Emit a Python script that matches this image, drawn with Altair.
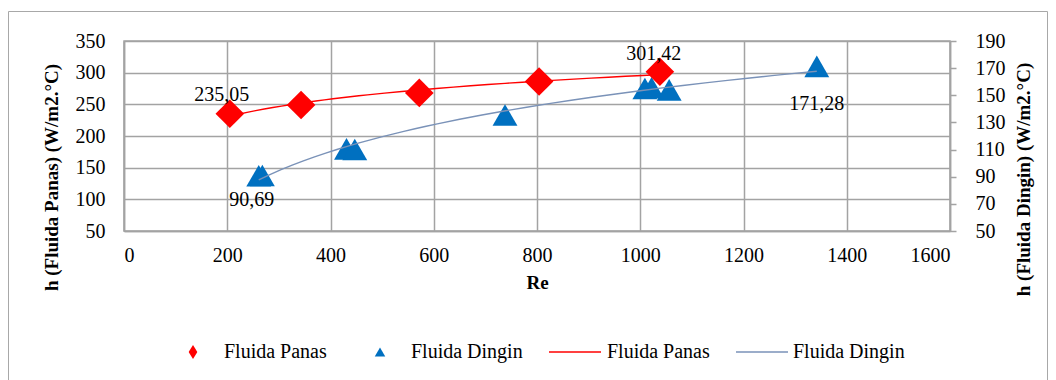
import altair as alt
import pandas as pd

# ---------------- data ----------------
re_panas = [205, 343, 572, 804, 1038]
h_panas = [235.05, 249.0, 268.0, 286.0, 301.42]

re_dingin = [261, 268, 431, 447, 738, 1009, 1022, 1056, 1342]
h_dingin = [90.69, 90.9, 110.5, 110.0, 135.5, 155.0, 155.5, 154.0, 171.28]

x_ticks = [0, 200, 400, 600, 800, 1000, 1200, 1400, 1600]
y_left_ticks = [50, 100, 150, 200, 250, 300, 350]
y_right_ticks = [50, 70, 90, 110, 130, 150, 170, 190]

label_panas_first = "235,05"
label_panas_last = "301,42"
label_dingin_first = "90,69"
label_dingin_last = "171,28"

legend_labels = ["Fluida Panas", "Fluida Dingin", "Fluida Panas", "Fluida Dingin"]

# ---------------- styles ----------------
FONT = "Liberation Serif, Times New Roman, DejaVu Serif, serif"
GRID = "#A3A3A3"
RED = "#FF0000"
BLUE = "#0070C0"
GRAYLINE = "#7A92B8"

panas_df = pd.DataFrame({"Re": re_panas, "h": h_panas})
dingin_df = pd.DataFrame({"Re": re_dingin, "hd": h_dingin})

x_enc = alt.X(
    "Re:Q",
    scale=alt.Scale(domain=[0, 1600], nice=False, zero=False),
    axis=alt.Axis(values=x_ticks, title="Re", grid=True, ticks=False,
                  labelPadding=14, titlePadding=8, format="d"),
)
y_left = alt.Y(
    "h:Q",
    scale=alt.Scale(domain=[50, 350], nice=False, zero=False),
    axis=alt.Axis(orient="left", values=y_left_ticks, grid=True, ticks=False,
                  labelPadding=19, title="h (Fluida Panas) (W/m2.°C)",
                  titleAngle=-90, titleX=-73, titleY=136,
                  titleAlign="center", titleBaseline="middle", format="d"),
)
y_right = alt.Y(
    "hd:Q",
    scale=alt.Scale(domain=[50, 190], nice=False, zero=False),
    axis=alt.Axis(orient="right", values=y_right_ticks, grid=False, ticks=True,
                  tickSize=6, tickColor=GRID, tickWidth=1.5, labelPadding=19,
                  title="h (Fluida Dingin) (W/m2.°C)",
                  titleAngle=-90, titleX=73, titleY=138,
                  titleAlign="center", titleBaseline="middle", format="d"),
)

# ----- right (Fluida Dingin) group -----
tri = alt.Chart(dingin_df).mark_point(
    shape="triangle-up", filled=True, size=620, color=BLUE, opacity=1
).encode(x=x_enc, y=y_right)
tri_line = alt.Chart(dingin_df).transform_regression(
    "Re", "hd", method="log"
).mark_line(color=GRAYLINE, strokeWidth=1.4).encode(x=x_enc, y=y_right)

d_first = pd.DataFrame({"Re": [re_dingin[0]], "hd": [h_dingin[0]], "t": [label_dingin_first]})
d_last = pd.DataFrame({"Re": [re_dingin[-1]], "hd": [h_dingin[-1]], "t": [label_dingin_last]})
lab_d1 = alt.Chart(d_first).mark_text(font=FONT, fontSize=20, color="black", dx=-7, dy=24).encode(
    x=x_enc, y=y_right, text="t:N")
lab_d2 = alt.Chart(d_last).mark_text(font=FONT, fontSize=20, color="black", dx=0, dy=38).encode(
    x=x_enc, y=y_right, text="t:N")

right_group = alt.layer(tri, tri_line, lab_d1, lab_d2)

# ----- left (Fluida Panas) group -----
dia = alt.Chart(panas_df).mark_point(
    shape="diamond", filled=True, size=820, color=RED, opacity=1
).encode(x=x_enc, y=y_left)
dia_line = alt.Chart(panas_df).transform_regression(
    "Re", "h", method="log"
).mark_line(color=RED, strokeWidth=1.4).encode(x=x_enc, y=y_left)

p_first = pd.DataFrame({"Re": [re_panas[0]], "h": [h_panas[0]], "t": [label_panas_first]})
p_last = pd.DataFrame({"Re": [re_panas[-1]], "h": [h_panas[-1]], "t": [label_panas_last]})
lab_p1 = alt.Chart(p_first).mark_text(font=FONT, fontSize=20, color="black", dx=-8, dy=-19).encode(
    x=x_enc, y=y_left, text="t:N")
lab_p2 = alt.Chart(p_last).mark_text(font=FONT, fontSize=20, color="black", dx=-6, dy=-18).encode(
    x=x_enc, y=y_left, text="t:N")

left_group = alt.layer(dia, dia_line, lab_p1, lab_p2)

# ----- outer frame and legend -----
one = pd.DataFrame({"a": [0]})
frame = alt.Chart(one).mark_rect(fillOpacity=0, stroke="#A8A8A8", strokeWidth=1).encode(
    x=alt.value(-115.5), x2=alt.value(923.5), y=alt.value(-29.5), y2=alt.value(400))

LEG_Y = 311
leg_items = []
leg_items.append(alt.Chart(one).mark_point(
    shape="M0,-1L0.62,0L0,1L-0.62,0Z", filled=True, size=196, color=RED, opacity=1
).encode(x=alt.value(69), y=alt.value(LEG_Y)))
leg_items.append(alt.Chart(one).mark_point(
    shape="triangle-up", filled=True, size=110, color=BLUE, opacity=1
).encode(x=alt.value(256), y=alt.value(LEG_Y)))
leg_items.append(alt.Chart(one).mark_rule(color=RED, strokeWidth=1.6).encode(
    x=alt.value(425), x2=alt.value(477), y=alt.value(LEG_Y)))
leg_items.append(alt.Chart(one).mark_rule(color=GRAYLINE, strokeWidth=1.6).encode(
    x=alt.value(612), x2=alt.value(664), y=alt.value(LEG_Y)))
leg_text_x = [100, 287, 483, 669]
for i, lab in enumerate(legend_labels):
    leg_items.append(
        alt.Chart(pd.DataFrame({"t": [lab]})).mark_text(
            font=FONT, fontSize=20, align="left", baseline="middle", color="black"
        ).encode(x=alt.value(leg_text_x[i]), y=alt.value(LEG_Y), text="t:N")
    )

chart = alt.layer(frame, right_group, left_group, *leg_items).resolve_scale(
    y="independent"
).properties(
    width=826, height=190,
    autosize=alt.AutoSizeParams(type="none"),
    padding={"left": 116, "top": 33, "right": 98, "bottom": 149},
    background="white",
).configure(
    font=FONT
).configure_view(
    stroke=GRID, strokeWidth=1.5
).configure_axis(
    labelFont=FONT, labelFontSize=20, labelColor="black",
    titleFont=FONT, titleFontSize=19, titleFontWeight="bold", titleColor="black",
    domainColor=GRID, domainWidth=1.5, gridColor=GRID, gridWidth=1.5,
)

chart.save("out.html", embed_options={"renderer": "svg", "actions": False})
